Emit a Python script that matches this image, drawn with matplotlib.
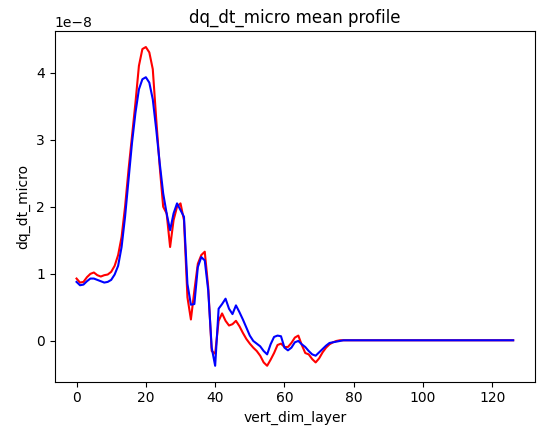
import numpy as np
import matplotlib
matplotlib.use("Agg")
import matplotlib.pyplot as plt

# Perfil medio por capa (en unidades de 1e-8)
rojo_ini = [0.93, 0.87, 0.88, 0.95, 1.00, 1.02, 0.98, 0.96, 0.98, 0.99,
            1.03, 1.12, 1.28, 1.55, 2.00, 2.55, 3.05, 3.55, 4.10, 4.35,
            4.38, 4.30, 4.05, 3.30, 2.60, 2.00, 1.90, 1.40, 1.80, 2.00,
            2.05, 1.80, 0.65, 0.32, 0.75, 1.15, 1.28, 1.33, 0.80, -0.15,
            -0.19, 0.30, 0.41, 0.30, 0.23, 0.25, 0.30, 0.22, 0.12, 0.03,
            -0.04, -0.10, -0.15, -0.22, -0.32, -0.37, -0.28, -0.18, -0.06, -0.04,
            -0.09, -0.09, -0.03, 0.05, 0.08, -0.06, -0.18, -0.20, -0.27, -0.32,
            -0.26, -0.17, -0.10, -0.05, -0.02, 0.00, 0.01]
azul_ini = [0.88, 0.83, 0.84, 0.89, 0.93, 0.93, 0.91, 0.89, 0.87, 0.88,
            0.91, 0.99, 1.12, 1.40, 1.85, 2.40, 2.95, 3.40, 3.75, 3.90,
            3.93, 3.85, 3.60, 3.15, 2.65, 2.20, 1.90, 1.65, 1.90, 2.05,
            1.95, 1.85, 0.85, 0.54, 0.55, 1.10, 1.25, 1.20, 0.75, -0.10,
            -0.37, 0.48, 0.55, 0.63, 0.48, 0.40, 0.53, 0.43, 0.32, 0.20,
            0.08, 0.00, -0.04, -0.08, -0.15, -0.20, -0.05, 0.06, 0.08, 0.07,
            -0.10, -0.14, -0.10, -0.02, 0.00, -0.05, -0.09, -0.15, -0.20, -0.22,
            -0.17, -0.12, -0.07, -0.03, -0.02, -0.01, 0.00]
resto = [0.01] * 50

rojo = np.array(rojo_ini + resto) * 1e-8
azul = np.array(azul_ini + resto) * 1e-8
capas = np.arange(len(rojo))

fig = plt.figure(figsize=(5.39, 4.38), dpi=100)
plt.subplots_adjust(left=0.1015, right=0.9926, bottom=0.1285, top=0.929)
plt.plot(capas, rojo, color="red")
plt.plot(capas, azul, color="blue")
plt.title("dq_dt_micro mean profile")
plt.xlabel("vert_dim_layer")
plt.ylabel("dq_dt_micro")
plt.savefig("out.png", dpi=100)
